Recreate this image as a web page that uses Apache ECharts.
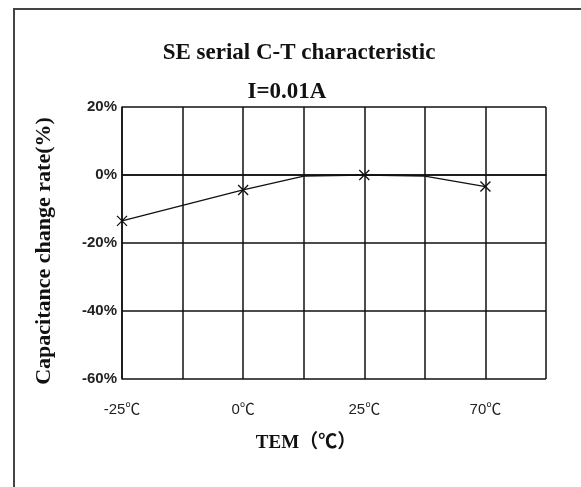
<!DOCTYPE html>
<html><head><meta charset="utf-8">
<script src="https://cdn.jsdelivr.net/npm/echarts@6/dist/echarts.min.js"></script>
<style>html,body{margin:0;padding:0;background:#fff}#c{width:581px;height:487px}</style>
</head><body><div id="c"></div>
<script>
const titleText = 'SE serial C-T characteristic';
const subText = 'I=0.01A';
const xCategories = ['-25℃', '', '0℃', '', '25℃', '', '70℃', ''];
const lineValues = [-13.5, null, -4.4, -0.3, 0, -0.3, -3.4, null];
const markerValues = [-13.5, null, -4.4, null, 0, null, -3.4, null];
const yTicks = [-60, -40, -20, 0, 20];
const xName = 'TEM（℃）';
const yName = 'Capacitance change rate(%)';

const chart = echarts.init(document.getElementById('c'), null, {renderer: 'canvas'});
chart.setOption({
  backgroundColor: '#fff',
  animation: false,
  title: [
    {text: titleText, left: 294, top: 37, textAlign: 'center',
     textStyle: {fontFamily: 'Liberation Serif', fontWeight: 'bold', fontSize: 23, color: '#111'}},
    {text: subText, left: 282, top: 76, textAlign: 'center',
     textStyle: {fontFamily: 'Liberation Serif', fontWeight: 'bold', fontSize: 23, color: '#111'}}
  ],
  graphic: [
    {type: 'rect', shape: {x: 14, y: 9, width: 620, height: 520},
     style: {fill: 'none', stroke: '#444', lineWidth: 2}, silent: true},
    {type: 'text', x: 306, y: 443,
     style: {text: xName, align: 'center', verticalAlign: 'middle',
      font: 'bold 19px "Liberation Serif", "Noto Sans CJK SC"', fill: '#111'}},
    {type: 'text', x: 44, y: 251, rotation: Math.PI / 2,
     style: {text: yName, align: 'center', verticalAlign: 'middle',
      font: 'bold 22px "Liberation Serif"', fill: '#111'}}
  ],
  grid: {left: 122, right: 35, top: 107, bottom: 108, containLabel: false},
  xAxis: {
    type: 'category', data: xCategories, boundaryGap: false,
    axisLine: {lineStyle: {color: '#111', width: 1.5}},
    axisTick: {show: false},
    axisLabel: {interval: 0, margin: 23, color: '#222', fontFamily: '"Liberation Sans", "Noto Sans CJK SC"', fontSize: 15},
    splitLine: {show: true, lineStyle: {color: '#111', width: 1.5}}
  },
  yAxis: {
    type: 'value', min: yTicks[0], max: yTicks[yTicks.length - 1], interval: 20,
    axisLine: {show: true, lineStyle: {color: '#111', width: 1.5}},
    axisTick: {show: false},
    axisLabel: {formatter: '{value}%', margin: 5, color: '#222', fontFamily: 'Liberation Sans', fontWeight: 'bold', fontSize: 15},
    splitLine: {show: true, lineStyle: {color: '#111', width: 1.5}}
  },
  series: [
    {type: 'line', data: lineValues, connectNulls: true, showSymbol: false, symbol: 'none',
     lineStyle: {color: '#111', width: 1.3}, z: 3},
    {type: 'line', data: markerValues, lineStyle: {width: 0, opacity: 0}, connectNulls: false,
     symbol: 'path://M0,0L10,10M10,0L0,10', symbolSize: 10, showSymbol: true,
     itemStyle: {color: 'none', borderColor: '#111', borderWidth: 1.3}, z: 4}
  ]
});
</script></body></html>
